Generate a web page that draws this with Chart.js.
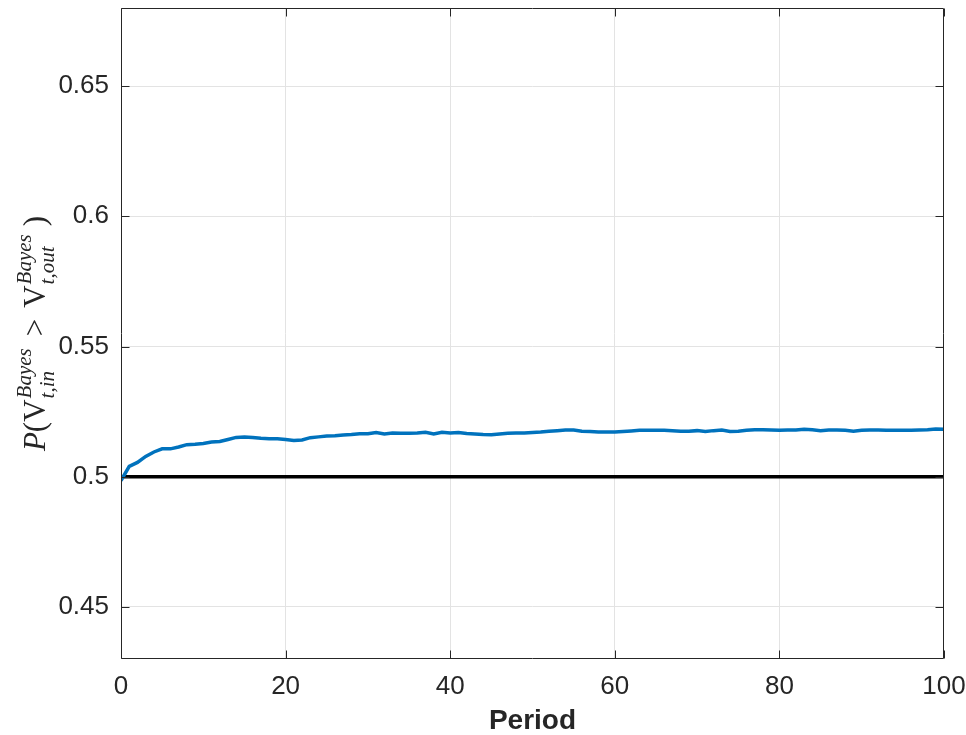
<!DOCTYPE html>
<html>
<head>
<meta charset="utf-8">
<script src="https://cdn.jsdelivr.net/npm/chart.js@4.4.1/dist/chart.umd.min.js"></script>
<style>
  html, body { margin: 0; padding: 0; background: #fff; }
  #wrap { width: 966px; height: 735px; }
</style>
</head>
<body>
<div id="wrap"><canvas id="chart" width="966" height="735"></canvas></div>
<script>
// P(V_in > V_out) per period
const probIn = [
  0.4985, 0.5040, 0.5055, 0.5078, 0.5095, 0.5107, 0.5107, 0.5114, 0.5123, 0.5125,
  0.5128, 0.5133, 0.5135, 0.5143, 0.5151, 0.5153, 0.5151, 0.5148, 0.5146, 0.5146,
  0.5143, 0.5139, 0.5141, 0.5150, 0.5153, 0.5156, 0.5157, 0.5160, 0.5162, 0.5165,
  0.5165, 0.5170, 0.5164, 0.5168, 0.5167, 0.5167, 0.5168, 0.5171, 0.5164, 0.5171,
  0.5168, 0.5170, 0.5166, 0.5164, 0.5162, 0.5161, 0.5164, 0.5167, 0.5168, 0.5168,
  0.5170, 0.5172, 0.5175, 0.5177, 0.5179, 0.5179, 0.5175, 0.5174, 0.5172, 0.5172,
  0.5172, 0.5174, 0.5176, 0.5178, 0.5178, 0.5178, 0.5178, 0.5177, 0.5175, 0.5175,
  0.5177, 0.5174, 0.5177, 0.5179, 0.5174, 0.5175, 0.5178, 0.5180, 0.5180, 0.5179,
  0.5178, 0.5179, 0.5179, 0.5182, 0.5180, 0.5177, 0.5179, 0.5179, 0.5178, 0.5175,
  0.5178, 0.5179, 0.5179, 0.5178, 0.5178, 0.5178, 0.5178, 0.5179, 0.5180, 0.5183,
  0.5182
];
const periods = probIn.map((_, i) => i);

// reference line at 0.5
const refX = [0, 100];
const refY = [0.5, 0.5];

const xTicks = [0, 20, 40, 60, 80, 100];
const yTicks = [0.45, 0.5, 0.55, 0.6, 0.65];

const axisColor = "#262626";
const gridColor = "#e3e3e3";

// ticks inside the box + frame, like matlab
const axesBox = {
  id: "axesBox",
  afterDraw(chart) {
    const { ctx, chartArea: a, scales } = chart;
    const L = Math.round(a.left) + 0.5, R = Math.round(a.right) - 0.5;
    const T = Math.round(a.top) + 0.5, B = Math.round(a.bottom) - 0.5;
    const len = 8;
    ctx.save();
    ctx.strokeStyle = axisColor;
    ctx.lineWidth = 1;
    ctx.beginPath();
    ctx.rect(L, T, R - L, B - T);
    xTicks.forEach((v) => {
      const px = Math.round(scales.x.getPixelForValue(v)) + 0.5;
      ctx.moveTo(px, B); ctx.lineTo(px, B - len);
      ctx.moveTo(px, T); ctx.lineTo(px, T + len);
    });
    yTicks.forEach((v) => {
      const py = Math.round(scales.y.getPixelForValue(v)) + 0.5;
      ctx.moveTo(L, py); ctx.lineTo(L + len, py);
      ctx.moveTo(R, py); ctx.lineTo(R - len, py);
    });
    ctx.stroke();
    ctx.restore();
  },
};

// y label with sub/superscripts
const yTitle = {
  id: "yTitle",
  afterDraw(chart) {
    const { ctx, chartArea: a } = chart;
    const base = 31, small = 21;
    const fam = '"Liberation Serif", "DejaVu Serif", serif';
    const it = (s) => `italic ${s}px ${fam}`;
    const up = (s) => `${s}px ${fam}`;
    const parts = [
      { t: "P", f: it(base) },
      { t: "(", f: up(base) },
      { t: "V", f: up(base) },
      { sup: "Bayes", sub: "t,in" },
      { gap: 11 },
      { t: ">", f: up(base) },
      { gap: 11 },
      { t: "V", f: up(base) },
      { sup: "Bayes", sub: "t,out" },
      { gap: 7 },
      { t: ")", f: up(base) },
    ];
    const widthOf = (p) => {
      if (p.gap) return p.gap;
      if (p.t) { ctx.font = p.f; return ctx.measureText(p.t).width; }
      ctx.font = it(small);
      return Math.max(ctx.measureText(p.sup).width, ctx.measureText(p.sub).width) + 2;
    };
    ctx.save();
    const total = parts.reduce((s, p) => s + widthOf(p), 0);
    ctx.translate(45, (a.top + a.bottom) / 2);
    ctx.rotate(-Math.PI / 2);
    ctx.fillStyle = axisColor;
    ctx.textBaseline = "alphabetic";
    ctx.textAlign = "left";
    let x = -total / 2;
    parts.forEach((p) => {
      const w = widthOf(p);
      if (p.t) {
        ctx.font = p.f;
        ctx.fillText(p.t, x, 0);
      } else if (p.sup) {
        ctx.font = it(small);
        ctx.fillText(p.sup, x + 1, -14);
        ctx.fillText(p.sub, x + 1, 9);
      }
      x += w;
    });
    ctx.restore();
  },
};

new Chart(document.getElementById("chart"), {
  type: "line",
  data: {
    datasets: [
      {
        label: "P",
        data: periods.map((p, i) => ({ x: p, y: probIn[i] })),
        borderColor: "#0072BD",
        borderWidth: 3.5,
        pointRadius: 0,
        tension: 0,
      },
      {
        label: "0.5",
        data: refX.map((p, i) => ({ x: p, y: refY[i] })),
        borderColor: "#000000",
        borderWidth: 3.5,
        pointRadius: 0,
      },
    ],
  },
  options: {
    responsive: false,
    animation: false,
    devicePixelRatio: 1,
    layout: { padding: { top: 8, right: 22, left: 0, bottom: 0 } },
    plugins: { legend: { display: false }, tooltip: { enabled: false } },
    scales: {
      x: {
        type: "linear",
        min: 0,
        max: 100,
        afterBuildTicks: (s) => { s.ticks = xTicks.map((v) => ({ value: v })); },
        afterFit: (s) => {
          s.height = 76;
          s.paddingLeft = 0; s.paddingRight = 0;
        },
        grid: {
          drawTicks: false,
          color: (c) => (c.tick && (c.tick.value === 0 || c.tick.value === 100) ? "rgba(0,0,0,0)" : gridColor),
        },
        border: { display: false },
        ticks: {
          padding: 12,
          color: axisColor,
          font: { family: '"Liberation Sans", Arial, sans-serif', size: 26 },
          maxRotation: 0,
          callback: (v) => String(v),
        },
        title: {
          display: true,
          text: "Period",
          color: axisColor,
          font: { family: '"Liberation Sans", Arial, sans-serif', size: 28, weight: "bold" },
          padding: { top: 0, bottom: -3 },
        },
      },
      y: {
        min: 0.43,
        max: 0.68,
        afterBuildTicks: (s) => { s.ticks = yTicks.map((v) => ({ value: v })); },
        afterFit: (s) => {
          s.width = 121;
          s.paddingTop = 0; s.paddingBottom = 0;
        },
        grid: { drawTicks: false, color: gridColor },
        border: { display: false },
        ticks: {
          padding: 12,
          color: axisColor,
          font: { family: '"Liberation Sans", Arial, sans-serif', size: 26 },
          callback: (v) => String(v),
        },
      },
    },
  },
  plugins: [axesBox, yTitle],
});
</script>
</body>
</html>
